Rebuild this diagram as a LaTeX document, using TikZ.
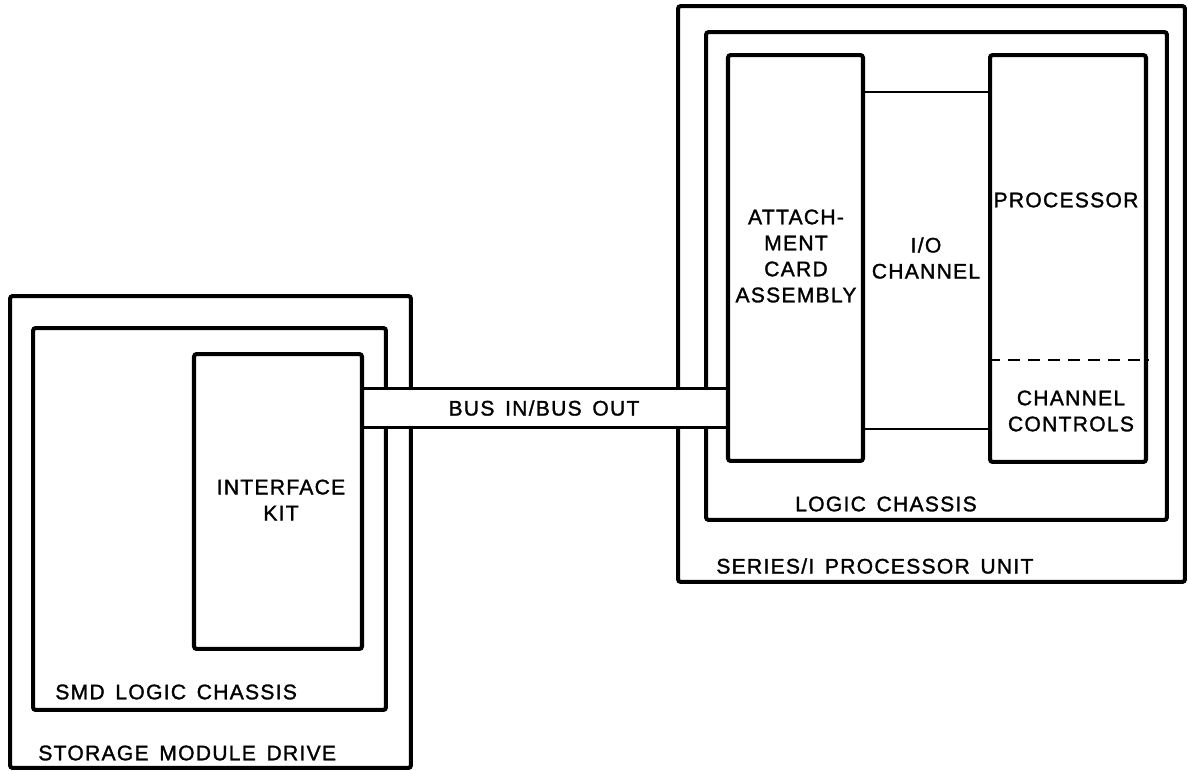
\documentclass[tikz,border=0pt]{standalone}
\usepackage{fontspec}
\setmainfont{Liberation Sans}[LetterSpace=6,WordSpace=1.5,FakeBold=1.4]

\begin{document}
\begin{tikzpicture}[x=0.02cm,y=-0.02cm,
  box/.style={draw,line width=2.3pt,rounded corners=1.5pt,inner sep=0pt},
  lbl/.style={font=\fontsize{12}{14.8}\selectfont,align=center,inner sep=0pt}]
\useasboundingbox (0,0) rectangle (1188,771);
% storage module drive
\node[box,minimum width=8.02cm,minimum height=9.44cm] (smd) at (210.5,532) {};
\node[box,minimum width=7.06cm,minimum height=7.64cm] (smdlc) at (209.5,519) {};
\node[box,minimum width=3.36cm,minimum height=5.9cm] (ifk) at (278,501.5) {};
% series/1 processor unit
\node[box,minimum width=10.14cm,minimum height=11.52cm] (spu) at (931.5,294) {};
\node[box,minimum width=9.22cm,minimum height=9.76cm] (lch) at (936.5,276) {};
\node[box,minimum width=2.7cm,minimum height=8.12cm] (acb) at (795.5,258) {};
\node[box,minimum width=3.12cm,minimum height=8.14cm] (prc) at (1068,258.5) {};
% bus between the two
\node[fill=white,minimum width=7.2cm,minimum height=0.76cm,inner sep=0pt] (bus) at (545,408) {};
\draw[line width=1.9pt] (bus.north west -| ifk.east) -- (bus.north east -| acb.west);
\draw[line width=1.9pt] (bus.south west -| ifk.east) -- (bus.south east -| acb.west);
% i/o channel
\draw[line width=1.2pt] (acb.east |- 0,92) -- (prc.west |- 0,92);
\draw[line width=1.2pt] (acb.east |- 0,429) -- (prc.west |- 0,429);
\draw[line width=1.2pt,dash pattern=on 0.24cm off 0.16cm] (prc.west |- 0,360) -- (prc.east |- 0,360);
% labels
\node[lbl] (ifkt) at (281,500) {INTERFACE\\KIT};
\node[lbl,anchor=west] (smdt) at (55,692) {SMD LOGIC CHASSIS};
\node[lbl,anchor=west] (stot) at (38,753) {STORAGE MODULE DRIVE};
\node[lbl] (bust) at (544,408) {BUS IN/BUS OUT};
\node[lbl] (acbt) at (796,256) {ATTACH-\\MENT\\CARD\\ASSEMBLY};
\node[lbl] (ioct) at (926,258) {I/O\\CHANNEL};
\node[lbl] (prct) at (1066,200) {PROCESSOR};
\node[lbl] (cct) at (1071,411) {CHANNEL\\CONTROLS};
\node[lbl] (lcht) at (886,504) {LOGIC CHASSIS};
\node[lbl,anchor=west] (sput) at (716,566) {SERIES/I PROCESSOR UNIT};
\end{tikzpicture}
\end{document}
